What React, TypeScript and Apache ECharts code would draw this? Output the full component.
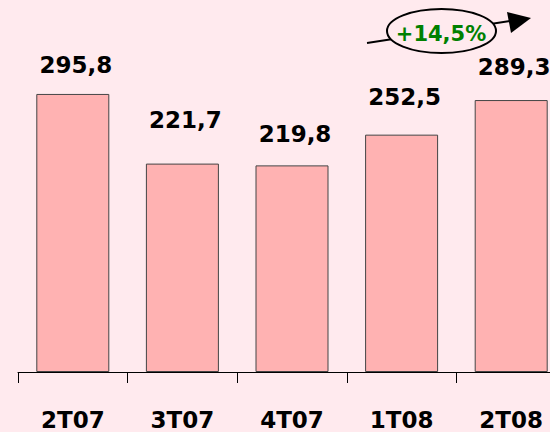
import React, { useEffect, useRef } from "react";
import * as echarts from "echarts";

const categories = ["2T07", "3T07", "4T07", "1T08", "2T08"];
const values = [295.8, 221.7, 219.8, 252.5, 289.3];
const valueLabels = ["295,8", "221,7", "219,8", "252,5", "289,3"];
const growthLabel = "+14,5%";

// label gaps above each bar (style, px)
const labelGaps = [17, 32, 20, 26, 22];

const BG = "#FFEAEE";
const FONT = "DejaVu Sans";

export default function App() {
  const ref = useRef<HTMLDivElement>(null);
  useEffect(() => {
    if (!ref.current) return;
    const chart = echarts.init(ref.current, undefined, { renderer: "svg" });
    chart.setOption({
      animation: false,
      backgroundColor: BG,
      grid: { left: 18, top: 43, right: 0, bottom: 60, containLabel: false },
      xAxis: {
        type: "category",
        data: categories,
        boundaryGap: true,
        axisLine: { show: true, lineStyle: { color: "#000", width: 1 } },
        axisTick: { show: true, length: 11, lineStyle: { color: "#000", width: 1 } },
        axisLabel: {
          margin: 36,
          color: "#000",
          fontFamily: FONT,
          fontWeight: "bold",
          fontSize: 23,
        },
      },
      yAxis: {
        type: "value",
        min: 0,
        max: 350,
        show: false,
        splitLine: { show: false },
      },
      series: [
        {
          type: "bar",
          barWidth: 73,
          data: values.map((v, i) => ({
            value: v,
            label: { distance: labelGaps[i] },
          })),
          itemStyle: { color: "#FFB2B2", borderColor: "#444", borderWidth: 1 },
          label: {
            show: true,
            position: "top",
            offset: [3, 0],
            color: "#000",
            fontFamily: FONT,
            fontWeight: "bold",
            fontSize: 23,
            formatter: (p: any) => valueLabels[p.dataIndex],
          },
        },
      ],
      graphic: [
        {
          type: "line",
          z: 10,
          shape: { x1: 367, y1: 43, x2: 510, y2: 21 },
          style: { stroke: "#000", lineWidth: 2 },
        },
        {
          type: "polygon",
          z: 10,
          shape: { points: [[507, 12], [531, 18], [511, 33]] },
          style: { fill: "#000" },
        },
        {
          type: "ellipse",
          z: 11,
          shape: { cx: 441.5, cy: 31, rx: 54.5, ry: 22 },
          style: { fill: BG, stroke: "#000", lineWidth: 2 },
        },
        {
          type: "text",
          z: 12,
          x: 441,
          y: 34,
          style: {
            text: growthLabel,
            fill: "#008000",
            font: `bold 21px "${FONT}"`,
            align: "center",
            verticalAlign: "middle",
          },
        },
      ],
    });
    return () => chart.dispose();
  }, []);
  return (
    <div
      style={{
        position: "fixed",
        left: 0,
        top: 0,
        width: 550,
        height: 432,
        overflow: "hidden",
        background: BG,
      }}
    >
      <div ref={ref} style={{ width: 566, height: 432 }} />
    </div>
  );
}
